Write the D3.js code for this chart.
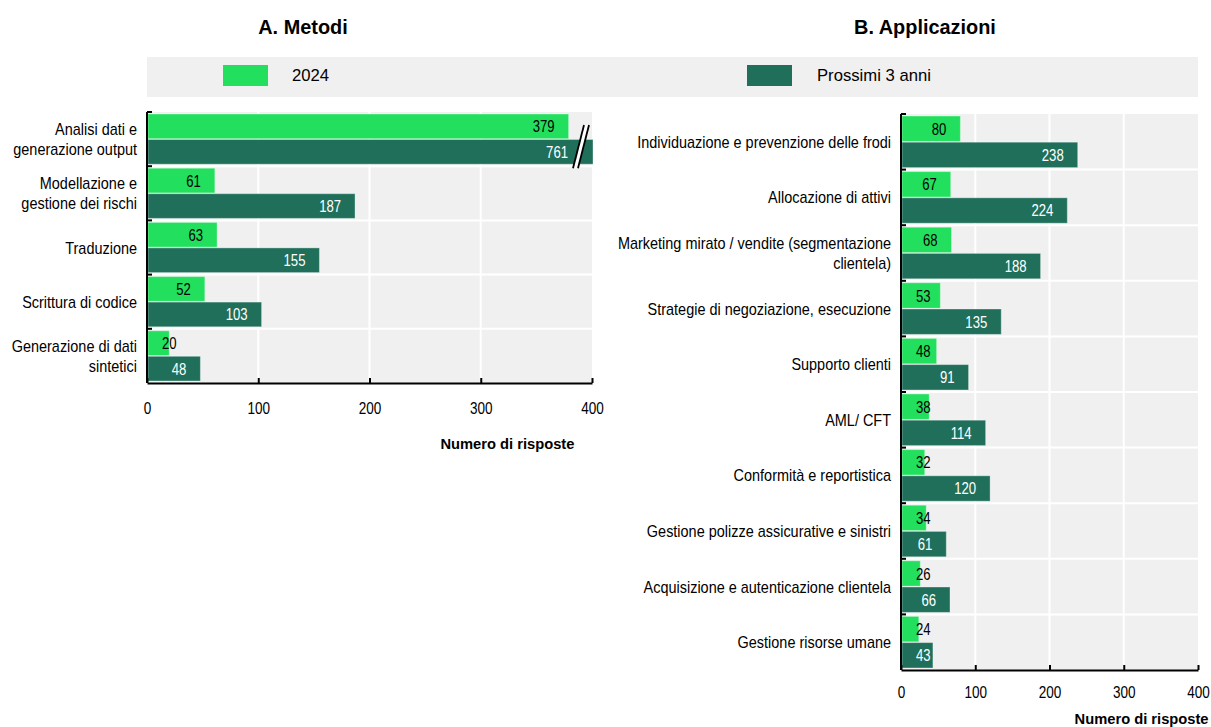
<!DOCTYPE html>
<html>
  <head>
    <meta charset="utf-8">
    <script src="https://d3js.org/d3.v7.min.js"></script>
    <style>
      body { margin: 0; background: #fff; }
      text { font-family: "Liberation Sans Narrow", "Arial Narrow", "Liberation Sans", sans-serif; }
    </style>
  </head>
  <body>
    <svg width="1211" height="727"></svg>

    <script>
      // data
      const seriesNames = ["2024", "Prossimi 3 anni"];

      const catsA = ["Analisi dati e|generazione output", "Modellazione e|gestione dei rischi", "Traduzione",
                     "Scrittura di codice", "Generazione di dati|sintetici"];
      const a2024 = [379, 61, 63, 52, 20];
      const aNext = [761, 187, 155, 103, 48];

      const catsB = ["Individuazione e prevenzione delle frodi", "Allocazione di attivi",
                     "Marketing mirato / vendite (segmentazione|clientela)", "Strategie di negoziazione, esecuzione",
                     "Supporto clienti", "AML/ CFT", "Conformità e reportistica",
                     "Gestione polizze assicurative e sinistri", "Acquisizione e autenticazione clientela",
                     "Gestione risorse umane"];
      const b2024 = [80, 67, 68, 53, 48, 38, 32, 34, 26, 24];
      const bNext = [238, 224, 188, 135, 91, 114, 120, 61, 66, 43];

      const xTicks = [0, 100, 200, 300, 400];

      const colors = ["#22e05d", "#206f5b"];
      const labelColors = ["#000", "#fff"];

      var svg = d3.select("svg");

      // no narrow font installed, so squeeze the glyphs to look like one
      function squeeze(sel, f) {
        sel.each(function() {
          var len = this.getComputedTextLength();
          d3.select(this).attr("textLength", len * f).attr("lengthAdjust", "spacingAndGlyphs");
        });
      }

      // legend band
      svg.append("rect")
        .attr("x", 147).attr("y", 57)
        .attr("width", 1051).attr("height", 40)
        .attr("fill", "#f0f0f0");
      var legendPos = [[223, 292], [747, 817]];
      seriesNames.forEach(function(s, i) {
        svg.append("rect")
          .attr("x", legendPos[i][0]).attr("y", 65)
          .attr("width", 45).attr("height", 21)
          .attr("fill", colors[i]);
        svg.append("text")
          .attr("x", legendPos[i][1]).attr("y", 81)
          .style("font-size", "17px")
          .text(s)
          .call(squeeze, 0.98);
      });

      function panel(opt) {
        var g = svg.append("g").attr("transform", "translate(" + opt.x0 + "," + opt.y0 + ")");
        var w = opt.x1 - opt.x0, h = opt.y1 - opt.y0;

        // title
        svg.append("text")
          .attr("x", opt.titleX).attr("y", 34)
          .attr("text-anchor", "middle")
          .style("font-size", "19.5px")
          .style("font-weight", "bold")
          .text(opt.title)
          .call(squeeze, 1.02);

        var x = d3.scaleLinear().domain([0, 400]).range([0, w]);
        var y = d3.scaleBand().domain(d3.range(opt.cats.length)).range([0, h]);
        var ys = d3.scaleBand().domain([0, 1]).range([2, y.bandwidth() - 2]).paddingInner(0.03);

        g.append("rect").attr("width", w).attr("height", h).attr("fill", "#f0f0f0");

        // white grid
        g.selectAll(".vgrid")
          .data(xTicks.slice(1, -1))
          .enter().append("line")
          .attr("x1", d => x(d)).attr("x2", d => x(d))
          .attr("y1", 0).attr("y2", h)
          .attr("stroke", "#fff").attr("stroke-width", 2);
        g.selectAll(".hgrid")
          .data(d3.range(1, opt.cats.length))
          .enter().append("line")
          .attr("x1", 0).attr("x2", w)
          .attr("y1", d => y(d)).attr("y2", d => y(d))
          .attr("stroke", "#fff").attr("stroke-width", 2);

        var limit = w + 1;
        var rows = [];
        opt.cats.forEach(function(c, i) {
          rows.push({ i: i, s: 0, v: opt.v0[i] });
          rows.push({ i: i, s: 1, v: opt.v1[i] });
        });

        g.selectAll(".bar")
          .data(rows)
          .enter().append("rect")
          .attr("x", 1)
          .attr("y", d => y(d.i) + ys(d.s))
          .attr("width", d => Math.min(x(d.v), limit) - 1)
          .attr("height", ys.bandwidth())
          .attr("fill", d => colors[d.s])
          .attr("stroke", "#ffffff")
          .attr("stroke-opacity", 0.35)
          .attr("stroke-width", 1);

        // value labels
        g.selectAll(".val")
          .data(rows)
          .enter().append("text")
          .attr("y", d => y(d.i) + ys(d.s) + ys.bandwidth() / 2 + 6)
          .attr("text-anchor", "end")
          .attr("fill", d => labelColors[d.s])
          .style("font-size", "16px")
          .text(d => d.v)
          .call(squeeze, 0.82)
          .attr("x", function(d) {
            var tw = +this.getAttribute("textLength");
            // broken bars keep their label clear of the break marks
            var end = x(d.v) > w ? w - 10 : x(d.v);
            return Math.max(end - 14, 15 + tw);
          });

        // axis break for bars past the scale
        rows.filter(d => x(d.v) > w).forEach(function(d) {
          var yt = y(d.i) + ys(0) + 11, yb = y(d.i) + ys(1) + ys.bandwidth() + 4;
          var bx = w - 13;
          g.append("path")
            .attr("d", "M" + (bx + 5) + "," + yt + "L" + (bx - 6) + "," + yb +
                       "L" + (bx - 1) + "," + yb + "L" + (bx + 10) + "," + yt + "Z")
            .attr("fill", "#fff");
          [0, 5].forEach(function(o) {
            g.append("line")
              .attr("x1", bx + 5 + o).attr("y1", yt)
              .attr("x2", bx - 6 + o).attr("y2", yb)
              .attr("stroke", "#000").attr("stroke-width", 1.8);
          });
        });

        // left axis with inside ticks on band edges
        g.append("line")
          .attr("x1", 0).attr("x2", 0).attr("y1", 0).attr("y2", h)
          .attr("stroke", "#000").attr("stroke-width", 2);
        g.selectAll(".ytick")
          .data(d3.range(opt.cats.length))
          .enter().append("line")
          .attr("x1", 0).attr("x2", 5)
          .attr("y1", d => y(d)).attr("y2", d => y(d))
          .attr("stroke", "#000").attr("stroke-width", 2);

        // category labels
        g.selectAll(".cat")
          .data(opt.cats)
          .enter().append("text")
          .attr("text-anchor", "end")
          .style("font-size", "17px")
          .each(function(c, i) {
            var lines = c.split("|");
            var cy = y(i) + y.bandwidth() / 2 - (lines.length - 1) * 20 / 2 + 6;
            lines.forEach(function(l, k) {
              d3.select(this).append("tspan")
                .attr("x", -10).attr("y", cy + k * 20)
                .text(l);
            }, this);
          });
        g.selectAll("tspan").call(squeeze, 0.85);

        // bottom axis
        var ax = g.append("g")
          .attr("transform", "translate(0," + h + ")")
          .call(d3.axisBottom(x).tickValues(xTicks).tickSize(-5).tickPadding(opt.tickPad).tickSizeOuter(0));
        ax.select(".domain").attr("stroke", "#000").attr("stroke-width", 2);
        ax.selectAll(".tick line").attr("stroke", "#000").attr("stroke-width", 2);
        ax.selectAll(".tick text")
          .style("font-size", "16.5px")
          .style("font-family", "\"Liberation Sans Narrow\", \"Arial Narrow\", \"Liberation Sans\", sans-serif")
          .attr("fill", "#000")
          .call(squeeze, 0.82);

        g.append("text")
          .attr("x", w * 0.81).attr("y", h + opt.titleDy)
          .attr("text-anchor", "middle")
          .style("font-size", "15px")
          .style("font-weight", "bold")
          .text("Numero di risposte")
          .call(squeeze, 0.98);
      }

      panel({ title: "A. Metodi", titleX: 303, cats: catsA, v0: a2024, v1: aNext,
              x0: 147, x1: 592, y0: 112, y1: 383, tickPad: 19, titleDy: 66 });
      panel({ title: "B. Applicazioni", titleX: 925, cats: catsB, v0: b2024, v1: bNext,
              x0: 901, x1: 1198, y0: 114, y1: 670, tickPad: 16, titleDy: 54 });
    </script>
  </body>
</html>
